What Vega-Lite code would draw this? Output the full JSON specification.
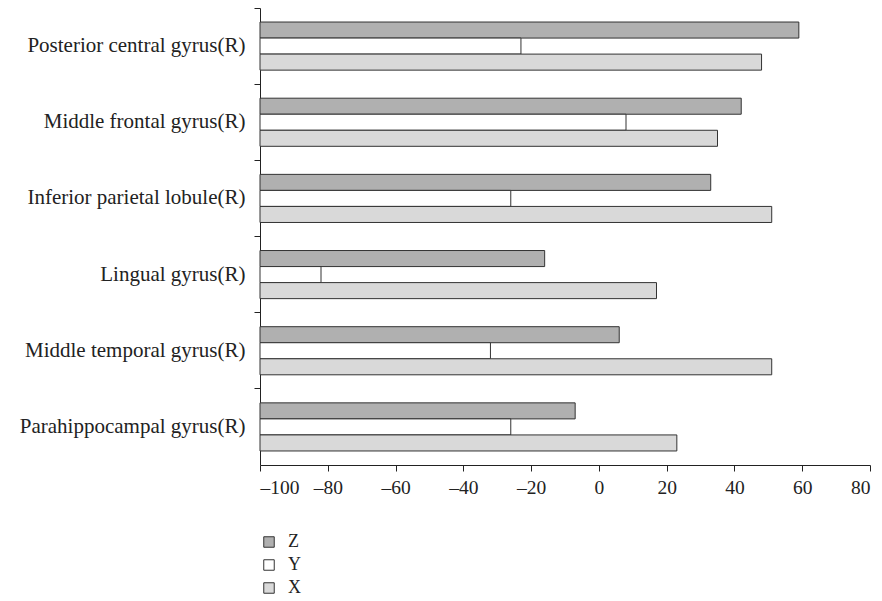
{
  "$schema": "https://vega.github.io/schema/vega-lite/v6.json",
  "width": 610,
  "height": 457,
  "autosize": "none",
  "padding": {"left": 260, "top": 8, "right": 12, "bottom": 136},
  "background": "white",
  "config": {
    "view": {"stroke": null},
    "font": "Liberation Serif",
    "axis": {"labelFont": "Liberation Serif", "labelColor": "#222", "domainColor": "#222", "tickColor": "#222", "grid": false},
    "legend": {"labelFont": "Liberation Serif"}
  },
  "data": {
    "values": [
      {"region": "Posterior central gyrus(R)", "coord": "Z", "value": 59},
      {"region": "Posterior central gyrus(R)", "coord": "Y", "value": -23},
      {"region": "Posterior central gyrus(R)", "coord": "X", "value": 48},
      {"region": "Middle frontal gyrus(R)", "coord": "Z", "value": 42},
      {"region": "Middle frontal gyrus(R)", "coord": "Y", "value": 8},
      {"region": "Middle frontal gyrus(R)", "coord": "X", "value": 35},
      {"region": "Inferior parietal lobule(R)", "coord": "Z", "value": 33},
      {"region": "Inferior parietal lobule(R)", "coord": "Y", "value": -26},
      {"region": "Inferior parietal lobule(R)", "coord": "X", "value": 51},
      {"region": "Lingual gyrus(R)", "coord": "Z", "value": -16},
      {"region": "Lingual gyrus(R)", "coord": "Y", "value": -82},
      {"region": "Lingual gyrus(R)", "coord": "X", "value": 17},
      {"region": "Middle temporal gyrus(R)", "coord": "Z", "value": 6},
      {"region": "Middle temporal gyrus(R)", "coord": "Y", "value": -32},
      {"region": "Middle temporal gyrus(R)", "coord": "X", "value": 51},
      {"region": "Parahippocampal gyrus(R)", "coord": "Z", "value": -7},
      {"region": "Parahippocampal gyrus(R)", "coord": "Y", "value": -26},
      {"region": "Parahippocampal gyrus(R)", "coord": "X", "value": 23}
    ]
  },
  "mark": {"type": "bar", "stroke": "#333", "strokeWidth": 1, "cornerRadius": 0},
  "encoding": {
    "y": {
      "field": "region",
      "type": "nominal",
      "sort": ["Posterior central gyrus(R)", "Middle frontal gyrus(R)", "Inferior parietal lobule(R)", "Lingual gyrus(R)", "Middle temporal gyrus(R)", "Parahippocampal gyrus(R)"],
      "scale": {"paddingInner": 0, "paddingOuter": 0},
      "axis": {"title": null, "bandPosition": 0, "labelFontSize": 21, "labelLimit": 300, "labelPadding": 9, "tickSize": 6, "labelColor": "#222"}
    },
    "yOffset": {
      "field": "coord",
      "type": "nominal",
      "sort": ["Z", "Y", "X"],
      "scale": {"paddingInner": 0, "paddingOuter": 0.875}
    },
    "x": {
      "field": "value",
      "type": "quantitative",
      "scale": {"domain": [-100, 80], "nice": false, "zero": false},
      "axis": {"title": null, "values": [-100, -80, -60, -40, -20, 0, 20, 40, 60, 80], "labelExpr": "replace(datum.label, '\u2212', '\u2013')", "labelFontSize": 19.5, "tickSize": 6, "labelPadding": 7}
    },
    "x2": {"datum": -100},
    "fill": {
      "field": "coord",
      "type": "nominal",
      "sort": ["Z", "Y", "X"],
      "scale": {"domain": ["Z", "Y", "X"], "range": ["#b0b0b0", "#ffffff", "#d9d9d9"]},
      "legend": {
        "title": null,
        "orient": "none",
        "legendX": 0,
        "legendY": 525,
        "symbolType": "square",
        "symbolSize": 110,
        "symbolStrokeColor": "#333",
        "symbolStrokeWidth": 1,
        "labelFontSize": 18,
        "labelOffset": 10,
        "rowPadding": 5,
        "labelColor": "#222"
      }
    }
  }
}
